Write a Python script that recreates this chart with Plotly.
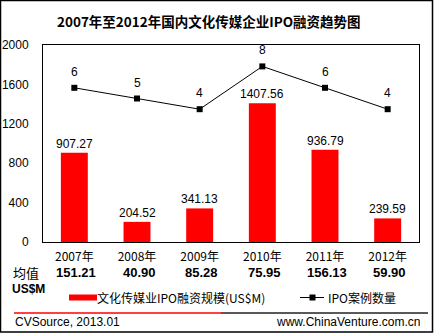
import plotly.graph_objects as go

years = ["2007年", "2008年", "2009年", "2010年", "2011年", "2012年"]
amounts = [907.27, 204.52, 341.13, 1407.56, 936.79, 239.59]
counts = [6, 5, 4, 8, 6, 4]
averages = ["151.21", "40.90", "85.28", "75.95", "156.13", "59.90"]
y_ticks = [0, 400, 800, 1200, 1600, 2000]

W, H = 434, 335
ML, MR, MT, MB = 43, 15, 45, 93
PW, PH = W - ML - MR, H - MT - MB

def px(x):
    return (x - ML) / PW

def py(y):
    return (H - MB - y) / PH

FONT = "Arial, 'Liberation Sans', 'Noto Sans CJK SC', sans-serif"
CJK = "'Noto Sans CJK SC', Arial, sans-serif"

fig = go.Figure()
fig.add_trace(go.Bar(
    x=years, y=amounts, width=0.43,
    marker=dict(color="#ff0000", line=dict(width=0)),
    name="文化传媒业IPO融资规模(US$M)", showlegend=False,
))
fig.add_trace(go.Scatter(
    x=years, y=counts, yaxis="y2", mode="lines+markers",
    line=dict(color="#000000", width=1),
    marker=dict(symbol="square", size=6, color="#000000"),
    name="IPO案例数量", showlegend=False,
))

ann = []
for yr, a in zip(years, amounts):
    ann.append(dict(x=yr, y=a, xref="x", yref="y", text=f"{a:.2f}", showarrow=False,
                    yanchor="middle", yshift=9, font=dict(family=FONT, size=12, color="#000")))
for yr, c in zip(years, counts):
    ann.append(dict(x=yr, y=c, xref="x", yref="y2", text=str(c), showarrow=False,
                    yanchor="middle", yshift=16, font=dict(family=FONT, size=12, color="#000")))
for yr, av in zip(years, averages):
    ann.append(dict(x=yr, y=py(272), xref="x", yref="paper", text=f"<b>{av}</b>", showarrow=False,
                    yanchor="middle", xshift=2, font=dict(family=FONT, size=13, color="#000")))

ann += [
    dict(x=px(209), y=py(21), xref="paper", yref="paper", showarrow=False,
         text="<b>2007年至2012年国内文化传媒企业IPO融资趋势图</b>", yanchor="middle",
         font=dict(family=CJK, size=13.5, color="#000")),
    dict(x=px(11), y=py(272), xref="paper", yref="paper", showarrow=False, text="均值",
         xanchor="left", yanchor="middle", font=dict(family=CJK, size=13, color="#000")),
    dict(x=px(10), y=py(289), xref="paper", yref="paper", showarrow=False, text="<b>US$M</b>",
         xanchor="left", yanchor="middle", font=dict(family=FONT, size=12, color="#000")),
    dict(x=px(95), y=py(297), xref="paper", yref="paper", showarrow=False,
         text="文化传媒业IPO融资规模(US$M)", xanchor="left", yanchor="middle",
         font=dict(family=CJK, size=12, color="#000")),
    dict(x=px(326), y=py(297), xref="paper", yref="paper", showarrow=False,
         text="IPO案例数量", xanchor="left", yanchor="middle",
         font=dict(family=CJK, size=12, color="#000")),
    dict(x=px(13), y=py(322), xref="paper", yref="paper", showarrow=False,
         text="CVSource, 2013.01", xanchor="left", yanchor="middle",
         font=dict(family=FONT, size=12, color="#000")),
    dict(x=px(422), y=py(322), xref="paper", yref="paper", showarrow=False,
         text="www.ChinaVenture.com.cn", xanchor="right", yanchor="middle",
         font=dict(family=FONT, size=12, color="#000")),
]

shapes = [
    dict(type="rect", xref="paper", yref="paper", x0=px(0.5), x1=px(432.5), y0=py(0.5), y1=py(332),
         line=dict(color="#000", width=1.5), fillcolor="rgba(0,0,0,0)", layer="below"),
    dict(type="rect", xref="paper", yref="paper", x0=px(69), x1=px(97), y0=py(294.5), y1=py(300.5),
         line=dict(width=0), fillcolor="#ff0000"),
    dict(type="line", xref="paper", yref="paper", x0=px(300), x1=px(324), y0=py(297.5), y1=py(297.5),
         line=dict(color="#000", width=1)),
    dict(type="rect", xref="paper", yref="paper", x0=px(309.5), x1=px(315.5), y0=py(294.5), y1=py(300.5),
         line=dict(width=0), fillcolor="#000"),
    dict(type="line", xref="paper", yref="paper", x0=px(14), x1=px(221), y0=py(313), y1=py(313),
         line=dict(color="#ff0000", width=1.5)),
    dict(type="line", xref="paper", yref="paper", x0=px(221), x1=px(428), y0=py(313), y1=py(313),
         line=dict(color="#222", width=1.5)),
]

fig.update_layout(
    width=W, height=H, margin=dict(l=ML, r=MR, t=MT, b=MB, autoexpand=False),
    paper_bgcolor="#ffffff", plot_bgcolor="#ffffff",
    font=dict(family=FONT, size=12, color="#000"),
    xaxis=dict(type="category", showgrid=False, showline=True, linecolor="#000", linewidth=1,
               mirror=True, ticks="", tickfont=dict(family=CJK, size=12), ticklabelstandoff=4,
               automargin=False),
    yaxis=dict(range=[0, 2000], tickvals=y_ticks, showgrid=False, showline=True, linecolor="#000",
               linewidth=1, mirror=True, ticks="", zeroline=False, ticklabelstandoff=11,
               tickfont=dict(family=FONT, size=12), automargin=False),
    yaxis2=dict(range=[-8.41, 10], overlaying="y", side="right", visible=False),
    annotations=ann, shapes=shapes, bargap=0.57,
)

fig.write_html("out.html")
